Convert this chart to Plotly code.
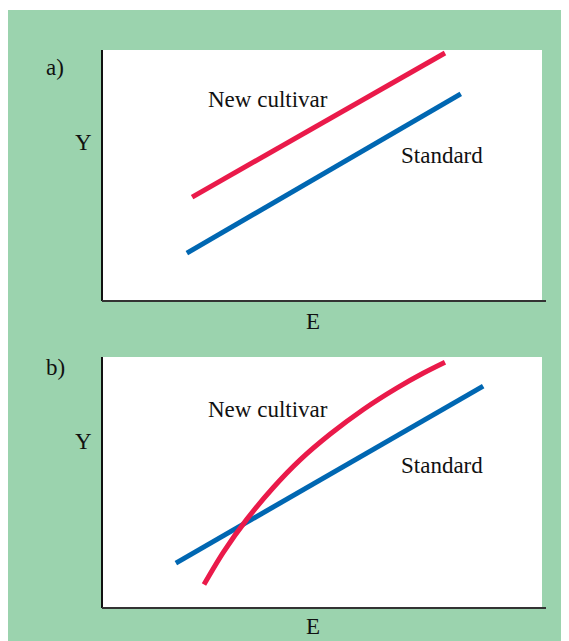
import plotly.graph_objects as go

# ---- data (abstract E / Y units, axis range 0..10) ----
a_new_E = [2.03, 7.79]
a_new_Y = [4.14, 9.88]
a_std_E = [1.91, 8.15]
a_std_Y = [1.91, 8.25]

b_new_E = [2.30, 2.74, 3.27, 3.88, 4.49, 5.17, 5.93, 6.69, 7.30, 7.79]
b_new_Y = [0.94, 2.22, 3.52, 4.80, 5.90, 6.92, 7.91, 8.76, 9.36, 9.79]
b_std_E = [1.66, 8.66]
b_std_Y = [1.79, 8.84]

panel_labels = ["a)", "b)"]
x_title = "E"
y_title = "Y"
new_label = "New cultivar"
std_label = "Standard"

# ---- style ----
OFF = 8  # page body margin in the browser
PAGE_W, PAGE_H = 569, 641
W, H = PAGE_W - OFF, PAGE_H - OFF
L = 103 - OFF
R = PAGE_W - 542
T = 50 - OFF
B = PAGE_H - 608
GREEN = "#9BD3AE"
RED = "#EA1A4A"
BLUE = "#0067B2"
FONT = "Liberation Serif"
FS = 23

pw = W - L - R
ph = H - T - B


def px(xp):
    """page x pixel -> paper"""
    return (xp - OFF - L) / pw


def py(yp):
    """page y pixel -> paper"""
    return (H - B - (yp - OFF)) / ph


fig = go.Figure()

lw = 5
fig.add_trace(go.Scatter(x=a_new_E, y=a_new_Y, mode="lines", line=dict(color=RED, width=lw), xaxis="x", yaxis="y"))
fig.add_trace(go.Scatter(x=a_std_E, y=a_std_Y, mode="lines", line=dict(color=BLUE, width=lw), xaxis="x", yaxis="y"))
fig.add_trace(go.Scatter(x=b_std_E, y=b_std_Y, mode="lines", line=dict(color=BLUE, width=lw), xaxis="x2", yaxis="y2"))
fig.add_trace(go.Scatter(x=b_new_E, y=b_new_Y, mode="lines",
                         line=dict(color=RED, width=lw, shape="spline", smoothing=0.8), xaxis="x2", yaxis="y2"))

ax_common = dict(range=[0, 10], showgrid=False, zeroline=False, showticklabels=False, ticks="", fixedrange=True)
y_common = dict(ax_common, showline=True, linecolor="#111111", linewidth=2)

a_top, a_bot = 50, 301
b_top, b_bot = 357, 608

fig.update_layout(
    width=W, height=H,
    margin=dict(l=L, r=R, t=T, b=B),
    paper_bgcolor=GREEN,
    plot_bgcolor="white",
    showlegend=False,
    xaxis=dict(ax_common, domain=[0, 1], anchor="y"),
    yaxis=dict(y_common, domain=[py(a_bot), py(a_top)], anchor="x"),
    xaxis2=dict(ax_common, domain=[0, 1], anchor="y2"),
    yaxis2=dict(y_common, domain=[py(b_bot), py(b_top)], anchor="x2"),
    font=dict(family=FONT, color="#111111", size=FS),
)

shapes = []
shapes.append(dict(type="rect", xref="paper", yref="paper", x0=px(0), x1=px(PAGE_W + 5), y0=py(10), y1=py(0),
                   fillcolor="white", line=dict(width=0), layer="above"))
for yb in (a_bot, b_bot):
    shapes.append(dict(type="line", xref="paper", yref="paper", x0=px(102), x1=px(546), y0=py(yb), y1=py(yb),
                       line=dict(color="#333333", width=2), layer="above"))
fig.update_layout(shapes=shapes)

anns = []


def txt(t, xp, yp, size=FS):
    anns.append(dict(text=t, xref="paper", yref="paper", x=px(xp), y=py(yp), xanchor="center", yanchor="middle",
                     showarrow=False, font=dict(family=FONT, size=size, color="#111111")))


label_y = [68, 367]
ytitle_y = [142, 441]
xtitle_y = [321, 626]
new_y = [99, 409]
std_y = [155, 465]
for k in range(2):
    txt(panel_labels[k], 55, label_y[k])
    txt(y_title, 83, ytitle_y[k])
    txt(x_title, 312.5, xtitle_y[k])
    txt(new_label, 267.5, new_y[k])
    txt(std_label, 441.5, std_y[k])

fig.update_layout(annotations=anns)

fig.write_html("out.html")
